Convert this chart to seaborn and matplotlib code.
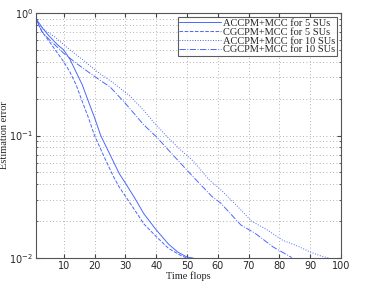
import matplotlib
matplotlib.use("Agg")
import matplotlib.pyplot as plt
import seaborn as sns
import pandas as pd

# time flops (x) and estimation error (y)
x_acc5 = [1, 3, 5, 8, 10, 12, 14, 16, 18, 20, 22, 25, 28, 30, 33, 36, 40, 44, 47, 50, 52]
y_acc5 = [0.9, 0.76, 0.66, 0.55, 0.5, 0.42, 0.33, 0.26, 0.19, 0.14, 0.1, 0.07, 0.049, 0.041, 0.031, 0.023, 0.017, 0.013, 0.0112, 0.0102, 0.01]

x_cg5 = [1, 3, 5, 8, 10, 12, 14, 16, 18, 20, 23, 26, 28, 32, 36, 40, 44, 48, 50]
y_cg5 = [0.88, 0.70, 0.6, 0.47, 0.4, 0.33, 0.26, 0.19, 0.14, 0.1, 0.068, 0.047, 0.038, 0.027, 0.019, 0.015, 0.012, 0.0105, 0.01]

x_acc10 = [1, 4, 7, 12, 17, 21, 26, 31.5, 36, 39, 43.5, 48, 52, 57, 61, 66, 71, 76, 81, 86, 90, 93, 96]
y_acc10 = [0.84, 0.72, 0.64, 0.5, 0.4, 0.33, 0.27, 0.21, 0.16, 0.13, 0.098, 0.076, 0.062, 0.044, 0.036, 0.027, 0.02, 0.017, 0.014, 0.0125, 0.0112, 0.0105, 0.01]

x_cg10 = [1, 3, 5.5, 10, 14, 18, 22, 25, 30, 36, 40, 46, 52, 58, 61, 67.5, 72, 78, 82, 84]
y_cg10 = [0.9, 0.7, 0.6, 0.47, 0.39, 0.33, 0.28, 0.25, 0.183, 0.122, 0.098, 0.067, 0.046, 0.032, 0.028, 0.0186, 0.016, 0.0123, 0.0108, 0.0101]

labels = ["ACCPM+MCC for 5 SUs", "CGCPM+MCC for 5 SUs",
          "ACCPM+MCC for 10 SUs", "CGCPM+MCC for 10 SUs"]
xs = [x_acc5, x_cg5, x_acc10, x_cg10]
ys = [y_acc5, y_cg5, y_acc10, y_cg10]
styles = ["-", "--", ":", "-."]

sns.set_style("ticks")
plt.rcParams["font.family"] = ["DejaVu Sans"]

fig = plt.figure(figsize=(3.79, 2.83), dpi=100)
ax = fig.add_axes([0.095, 0.088, 0.805, 0.866])

for xv, yv, lab, ls in zip(xs, ys, labels, styles):
    df = pd.DataFrame({"t": xv, "e": yv})
    sns.lineplot(data=df, x="t", y="e", ax=ax, color="#4a68ff",
                 linestyle=ls, linewidth=0.7, label=lab)

ax.set_yscale("log")
ax.set_xlim(1, 100)
ax.set_ylim(0.01, 1)
ax.set_xticks(range(10, 101, 10))
ax.grid(True, which="major", linestyle=(0, (1, 3)), color="#9a9a9a", linewidth=0.6)
ax.grid(True, which="minor", axis="y", linestyle=(0, (1, 3)), color="#9a9a9a", linewidth=0.6)
ax.tick_params(which="both", direction="in", top=True, right=True, labelsize=7,
               color="#444444", pad=2)
ax.tick_params(which="major", length=3)
ax.tick_params(which="minor", length=1.5)
for sp in ax.spines.values():
    sp.set_color("#555555")
    sp.set_linewidth(0.8)

ax.set_xlabel("Time flops", family="Liberation Serif", fontsize=7.5, labelpad=0)
ax.set_ylabel("Estimation error", family="Liberation Serif", fontsize=7.5)
ax.yaxis.set_label_coords(-0.088, 0.5)

leg = ax.legend(loc="upper right", prop={"family": "Liberation Serif", "size": 7.5},
                frameon=True, fancybox=False, edgecolor="#333333",
                borderpad=0.15, labelspacing=-0.05, handlelength=4.0,
                handletextpad=0.2, borderaxespad=0.4)
leg.get_frame().set_linewidth(0.8)

fig.savefig("out.png", dpi=100)
